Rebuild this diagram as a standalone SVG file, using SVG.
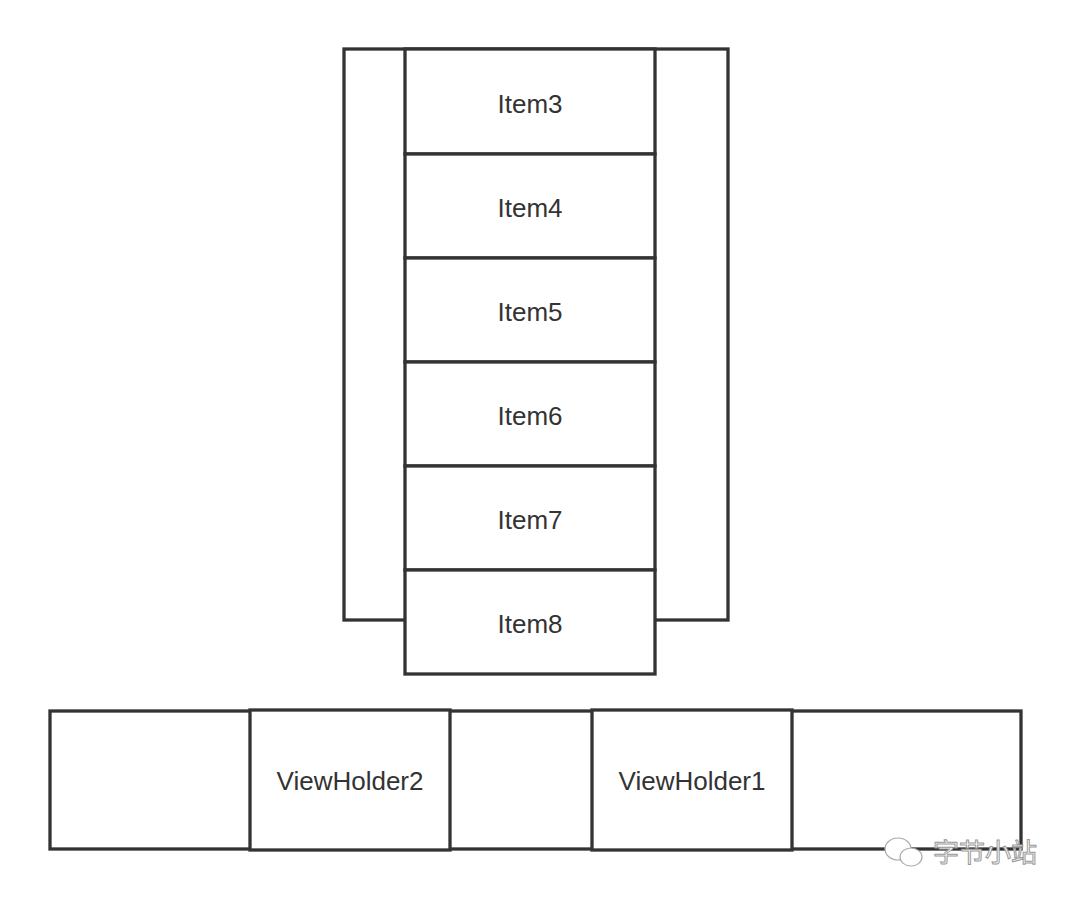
<svg xmlns="http://www.w3.org/2000/svg" width="1072" height="900" viewBox="0 0 1072 900">
<style>
.b{fill:#fff;stroke:#333;stroke-width:3.3}
.t{font-family:"Liberation Sans",Arial,sans-serif;font-size:26px;fill:#333;text-anchor:middle;dominant-baseline:central}
.w{font-family:"Noto Sans CJK SC",sans-serif;font-size:26px;fill:#fff;stroke:#999;stroke-width:1}
</style>
<rect width="1072" height="900" fill="#fff"/>
<g id="frame"><rect class="b" x="344" y="49" width="384" height="571"/></g>
<g id="item3"><rect class="b" x="405" y="49" width="250" height="105"/><text class="t" x="530" y="104">Item3</text></g>
<g id="item4"><rect class="b" x="405" y="154" width="250" height="104"/><text class="t" x="530" y="208">Item4</text></g>
<g id="item5"><rect class="b" x="405" y="258" width="250" height="104"/><text class="t" x="530" y="312">Item5</text></g>
<g id="item6"><rect class="b" x="405" y="362" width="250" height="104"/><text class="t" x="530" y="416">Item6</text></g>
<g id="item7"><rect class="b" x="405" y="466" width="250" height="104"/><text class="t" x="530" y="520">Item7</text></g>
<g id="item8"><rect class="b" x="405" y="570" width="250" height="104"/><text class="t" x="530" y="624">Item8</text></g>
<g id="strip"><rect class="b" x="50" y="711" width="971" height="138"/></g>
<g id="vh2"><rect class="b" x="250" y="710" width="200" height="140"/><text class="t" x="350" y="781">ViewHolder2</text></g>
<g id="vh1"><rect class="b" x="592" y="710" width="200" height="140"/><text class="t" x="692" y="781">ViewHolder1</text></g>
<g id="connectors"></g>
<g id="watermark">
<ellipse cx="898" cy="849" rx="13" ry="11" fill="#fff" stroke="#aaa" stroke-width="1.2"/>
<ellipse cx="911" cy="857" rx="11" ry="9" fill="#fff" stroke="#aaa" stroke-width="1.2"/>
<text class="w" x="933" y="862">字节小站</text>
</g>
</svg>
